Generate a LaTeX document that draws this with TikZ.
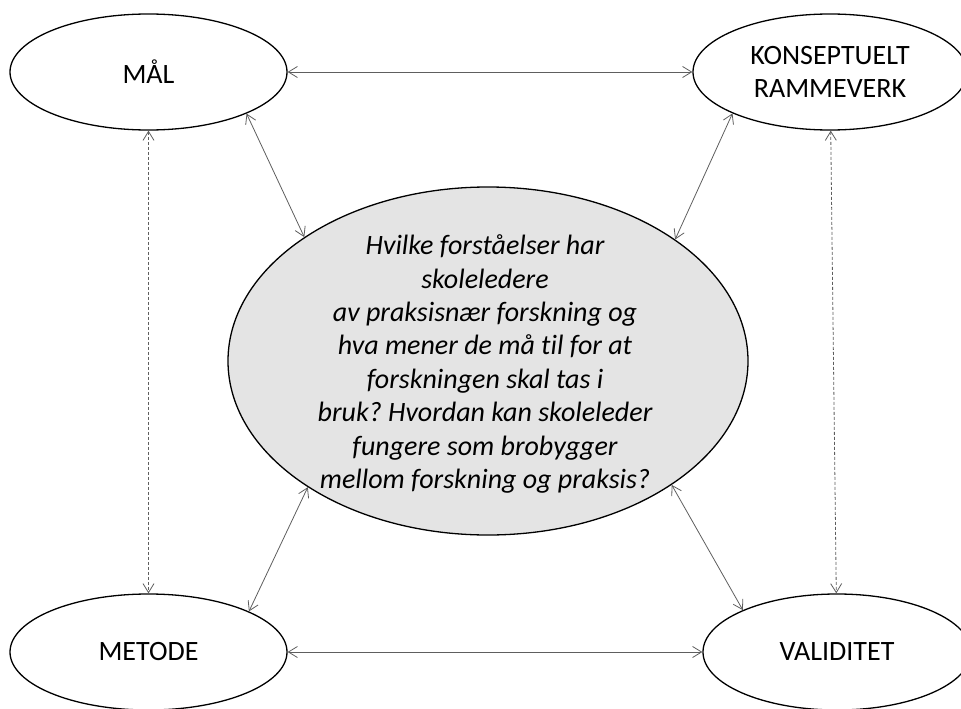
\documentclass[tikz,border=0pt]{standalone}
\usepackage{fontspec}
\setmainfont{Carlito}[Ligatures=NoCommon]
\frenchspacing
\usetikzlibrary{arrows.meta,shapes.geometric}
\definecolor{qgray}{HTML}{E4E4E4}
\definecolor{linkgray}{HTML}{5E5E5E}

\begin{document}
\begin{tikzpicture}[x=1pt, y=-1pt,
  topic/.style={ellipse, draw=black, line width=1.3pt, fill=white,
    minimum width=277pt, minimum height=116pt, inner sep=0pt,
    align=center, font=\fontsize{28}{33.5}\selectfont},
  question/.style={ellipse, draw=black, line width=1.3pt, fill=qgray,
    minimum width=520pt, minimum height=348pt, inner sep=0pt},
  qtext/.style={align=center, font=\fontsize{28}{33.4}\selectfont\itshape},
  link/.style={linkgray, line width=0.8pt,
    {Straight Barb[length=9pt,width=11pt]}-{Straight Barb[length=9pt,width=11pt]}},
  dlink/.style={link, dash pattern=on 3pt off 2pt}
]
\useasboundingbox (0,0) rectangle (961,709);
% ── Research question (centre) ───────────────────
\node[question] (q) at (488,361) {};
\node[qtext] (qt) at (485,364) {Hvilke forståelser har\\ skoleledere\\
  av praksisnær forskning og\\ hva mener de må til for at\\
  forskningen skal tas i\\ bruk? Hvordan kan skoleleder\\
  fungere som brobygger\\ mellom forskning og praksis?};
% ── Corner components ────────────────────────────
\node[topic] (mal) at (148.5,72) {MÅL};
\node[topic, minimum width=274pt] (kons) at (830,72) {KONSEPTUELT\\ RAMMEVERK};
\node[topic] (met) at (148.5,652) {METODE};
\node[topic, minimum width=268pt] (val) at (837,652) {VALIDITET};
% ── Links between corners ────────────────────────
\draw[link] (mal) -- (kons);
\draw[link] (met) -- (val);
\draw[dlink] (mal) -- (met);
\draw[dlink] (kons) -- (val);
% ── Links to the question ────────────────────────
\draw[link] (mal.-23.5) -- (q.146.7);
\draw[link] (kons.-157) -- (q.33);
\draw[link] (met.22.2) -- (q.-145.7);
\draw[link] (val.156.9) -- (q.-34.4);
\end{tikzpicture}
\end{document}
